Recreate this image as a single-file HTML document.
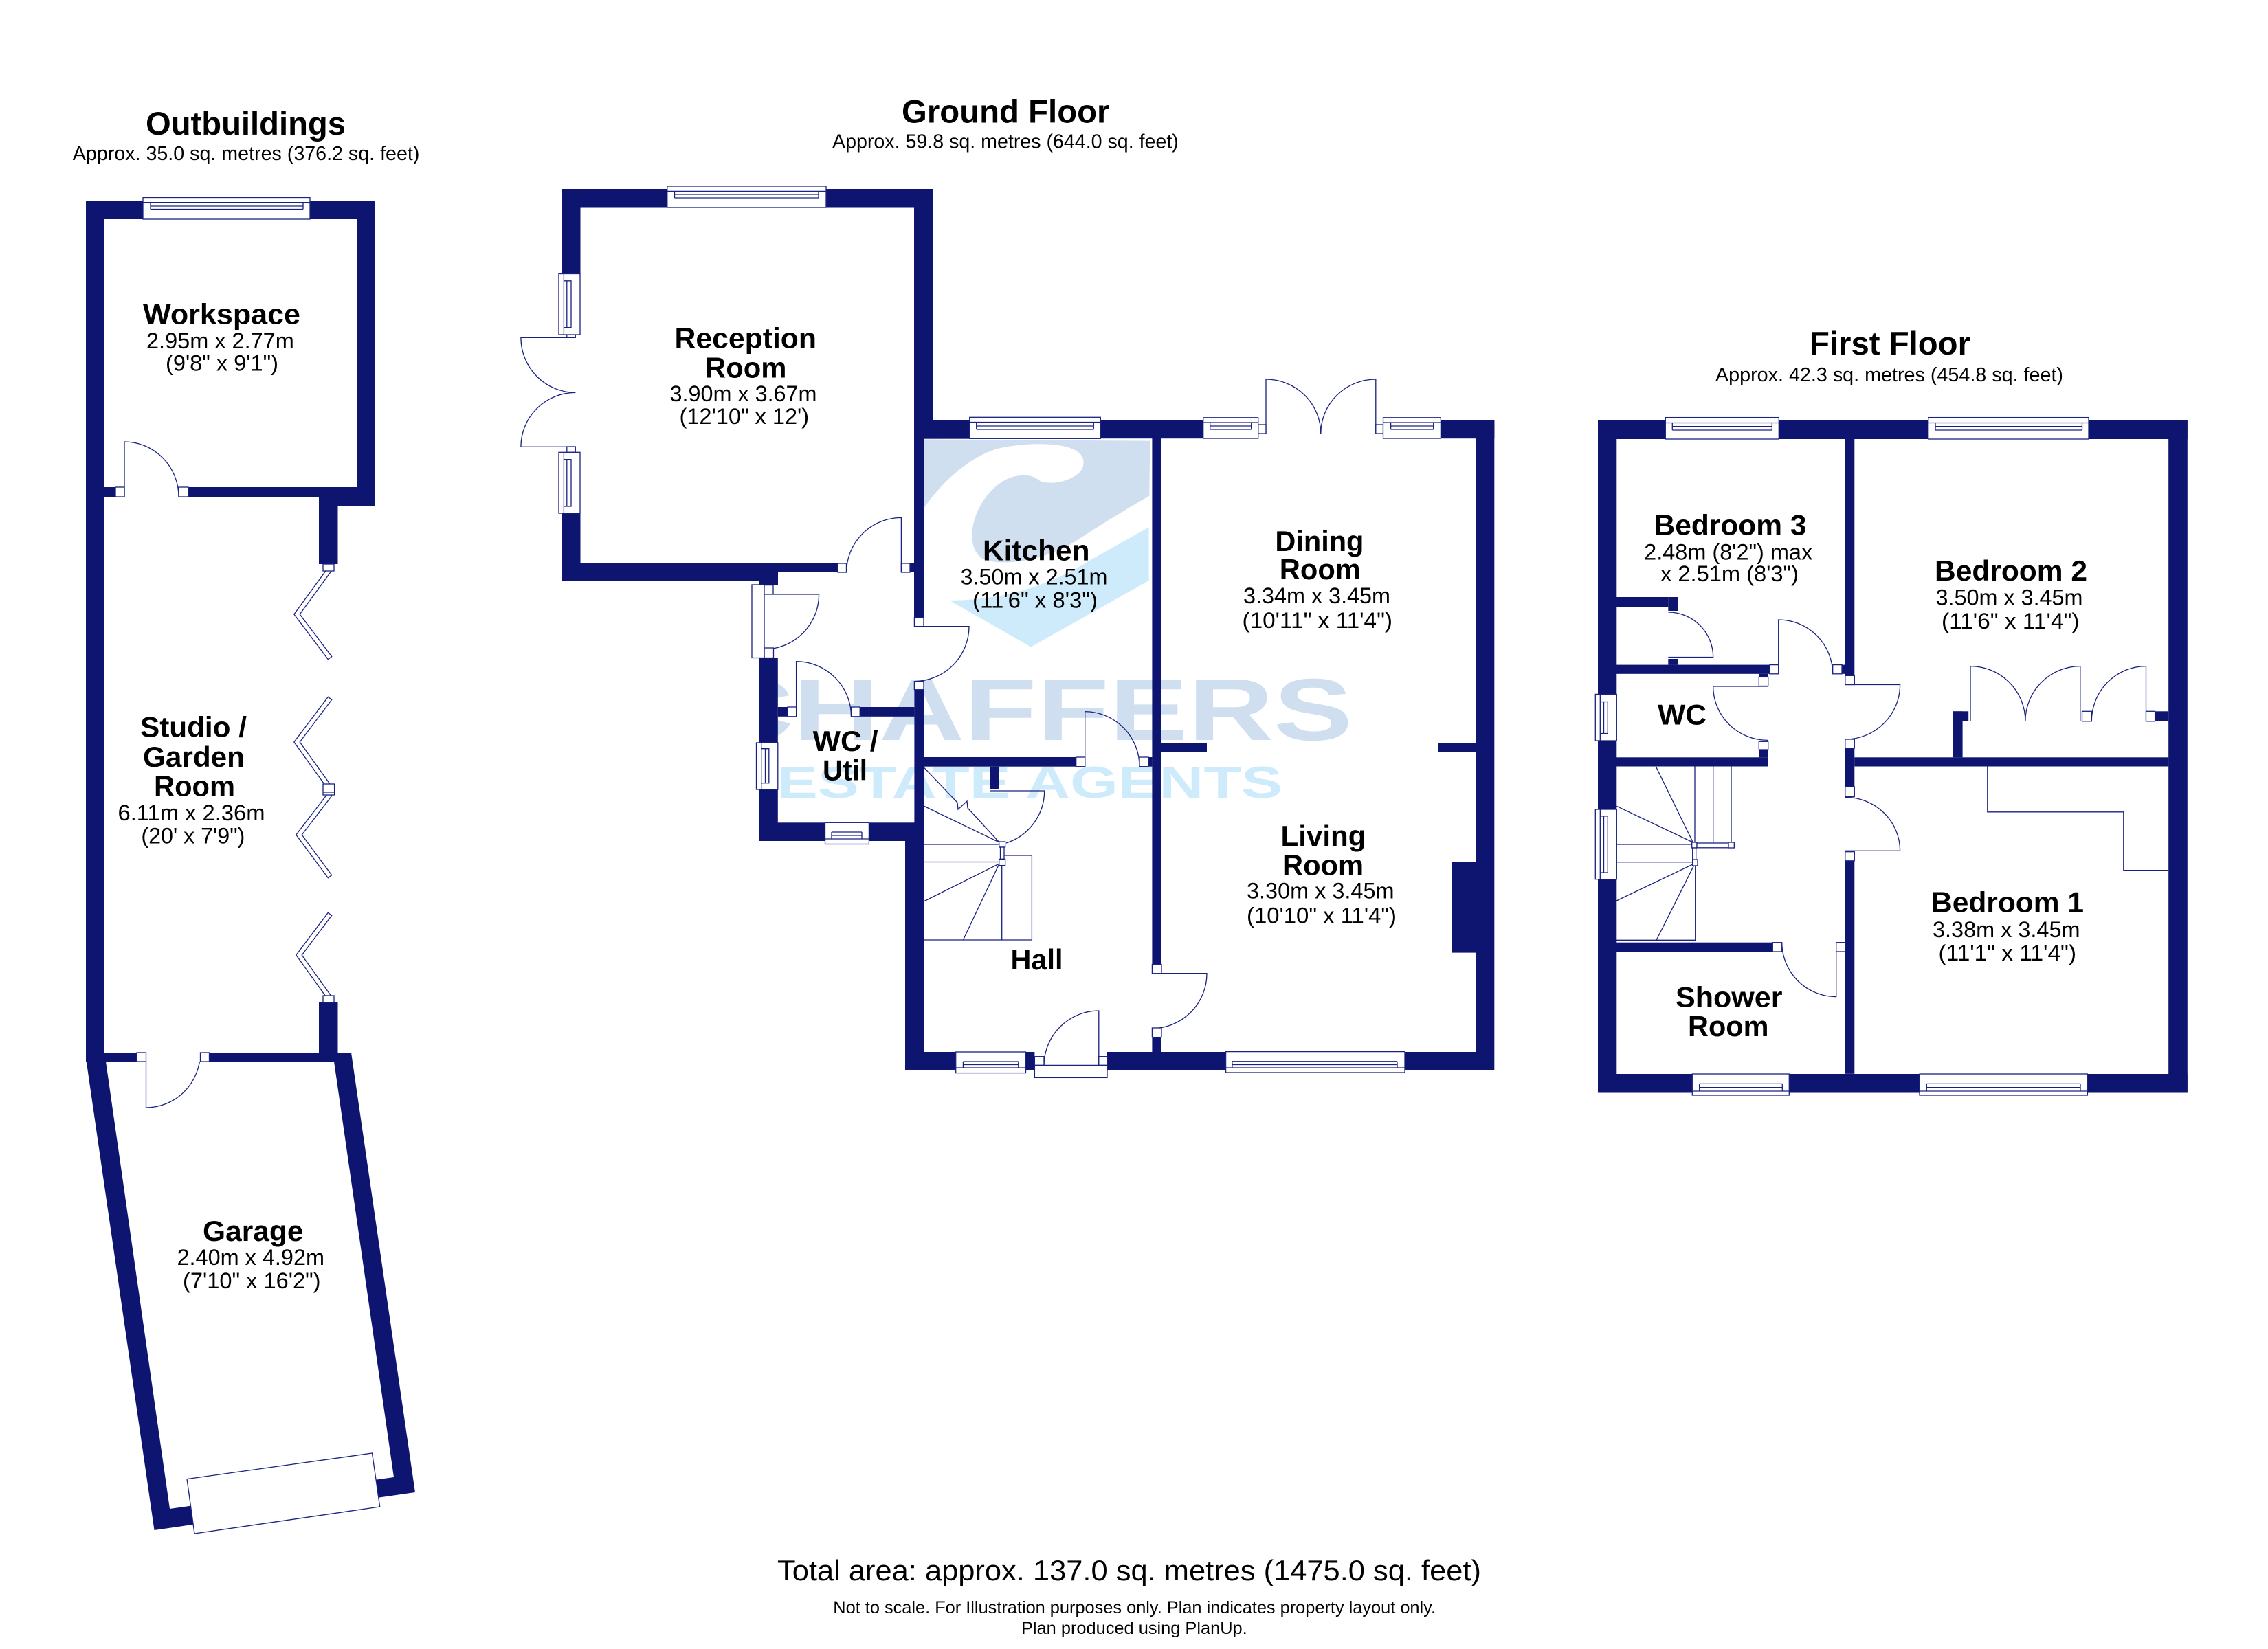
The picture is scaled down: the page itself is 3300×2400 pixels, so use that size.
<!DOCTYPE html>
<html><head><meta charset="utf-8"><title>Floor plan</title>
<style>
html,body{margin:0;padding:0;background:#fff}
svg{display:block}
text{font-family:"Liberation Sans",Arial,sans-serif;fill:#000}
.t{font-size:47px;font-weight:700}
.r{font-size:42px;font-weight:700}
.d{font-size:32px}
.s{font-size:29px}
.w rect,.w path{fill:#0d1570}
.l{fill:none;stroke:#1a2280;stroke-width:1.3}
.q rect{fill:#fff;stroke:#1a2280;stroke-width:1.3}
.win rect{fill:#fff;stroke:#1a2280;stroke-width:1.3}
.win path{fill:none;stroke:#1a2280;stroke-width:1.3}
.bf{fill:none;stroke:#1a2280;stroke-width:8;stroke-linejoin:miter;stroke-linecap:square}
.bf2{fill:none;stroke:#fff;stroke-width:5.4;stroke-linejoin:miter;stroke-linecap:square}
</style></head><body>
<svg xmlns="http://www.w3.org/2000/svg" width="3300" height="2400" viewBox="0 0 3300 2400">
<defs><clipPath id="wm"><rect x="1104" y="900" width="1000" height="320"/></clipPath></defs>
<rect width="3300" height="2400" fill="#fff"/>

<!-- watermark -->
<g transform="translate(1340 600) scale(.3333)">
<path fill="#cfdff0" d="M12 118 L1000 125 L997 365 C850 450 740 520 680 560 C560 640 360 680 270 640 C220 610 210 530 240 450 C270 370 340 290 420 278 C480 270 500 285 520 300 C570 320 650 300 690 265 C720 235 715 190 680 170 C620 130 450 130 330 160 C200 200 80 320 12 420 Z"/>
<path fill="#cdebfb" d="M995 502 L995 735 L480 1025 L125 822 C350 820 560 760 740 645 Z"/>
</g>
<g clip-path="url(#wm)">
<text x="1030" y="1077" font-size="128" font-weight="700" style="fill:#cfdff0" textLength="938" lengthAdjust="spacingAndGlyphs">CHAFFERS</text>
<text x="1130" y="1161" font-size="65" font-weight="700" style="fill:#cdebfb" textLength="736" lengthAdjust="spacingAndGlyphs">ESTATE AGENTS</text>
</g>

<!-- door leaves -->
<g class="l">
<path d="M181 723V643A79 80 0 0 1 260 723"/>
<path d="M212.5 1545V1612A79 80 0 0 0 291.5 1532"/>
<path d="M837.3 491.3H757.9A79.4 80 0 0 0 837.3 571.3"/>
<path d="M837.3 650.3H757.9A79.4 79 0 0 1 837.3 571.3"/>
<path d="M1311.4 833V753.4A80 80 0 0 0 1231.5 833"/>
<path d="M1112 865H1191.6A80 80 0 0 1 1112 945"/>
<path d="M1330.4 911.6H1410A80 80 0 0 1 1330.4 991.6"/>
<path d="M1158.6 1042.8V962.7A80 80 0 0 1 1238.5 1042.8"/>
<path d="M1578.7 1115.7V1035.6A80 80 0 0 1 1658 1115.7"/>
<path d="M1440 1151H1519.7A80 80 0 0 1 1464 1227"/>
<path d="M1598.8 1551V1471A80 80 0 0 0 1519 1551"/>
<path d="M1676.4 1416.7H1756A80 80 0 0 1 1676.4 1496.7"/>
<path d="M1842 631V552A80 79 0 0 1 1921.8 631"/>
<path d="M2001.8 631V552A80 79 0 0 0 1921.8 631"/>
<path d="M2427.3 956.5H2492.7A65.4 65.5 0 0 0 2427.3 891"/>
<path d="M2587.7 980.8V902A79 79 0 0 1 2666.7 980.8"/>
<path d="M2572 999H2492.7A79.3 78.4 0 0 0 2572 1077.4"/>
<path d="M2684.8 996.5H2764.6A79.8 79.5 0 0 1 2684.8 1076"/>
<path d="M2684.8 1238.3H2764.6A79.8 78 0 0 0 2684.8 1160.3"/>
<path d="M2671.7 1385V1450.6A79 79 0 0 1 2592.7 1371.7"/>
<path d="M2867 1049.8V969.6A80 80 0 0 1 2946.9 1049.8"/>
<path d="M3026.8 1049.8V969.6A80 80 0 0 0 2946.9 1049.8"/>
<path d="M3122.5 1049.8V969.6A79.2 80 0 0 0 3043.3 1049.8"/>
<!-- GF stairs -->
<path d="M1344 1116.7L1393 1168L1394 1178L1407 1166L1408 1176L1454 1226"/>
<path d="M1344 1173L1454 1226M1344 1229H1454M1344 1254.5H1454M1458 1245H1501.4V1368H1344M1457.7 1255V1368M1454 1257L1344 1312M1454 1257L1401.4 1368"/>
<!-- FF stairs -->
<path d="M2409.3 1115.5L2463.3 1226M2352.3 1173.3L2463.3 1226M2352 1229H2463M2352 1254.7H2463M2352 1311L2463 1258M2410 1368.4L2466 1257M2466 1115.5V1227M2492.7 1115.5V1227M2519 1115.5V1227M2466.7 1258V1368.4H2352"/>
<path d="M2352 1368.4H2466"/>
</g>
<g class="q">
<rect x="1453.7" y="1225" width="8.9" height="8"/><rect x="1455.5" y="1233" width="5.5" height="17.4"/><rect x="1453.7" y="1250.4" width="8.9" height="9.2"/>
<rect x="2461.7" y="1226" width="7.3" height="8"/><rect x="2469" y="1227" width="46" height="6.8"/><rect x="2515" y="1226" width="8.3" height="8"/><rect x="2462.7" y="1234" width="5" height="20"/><rect x="2462.7" y="1251" width="7.3" height="9"/>
</g>

<!-- walls -->
<g class="w">
<!-- outbuildings -->
<rect x="125" y="292" width="27" height="1253"/>
<rect x="125" y="292" width="83" height="27"/><rect x="451" y="292" width="95" height="27"/>
<rect x="519" y="292" width="27" height="444"/>
<rect x="464" y="723" width="82" height="13"/><rect x="464" y="736" width="27.5" height="85"/>
<rect x="274" y="709" width="272" height="14"/><rect x="152" y="709" width="16" height="14"/>
<rect x="464" y="1459" width="27.5" height="75"/>
<path fill-rule="evenodd" d="M125 1532H511L604 2172L224.5 2227L125 1540ZM154 1545L247 2196L573 2150L486 1545Z"/>
<!-- reception -->
<rect x="817" y="275" width="153.8" height="27.5"/><rect x="1202" y="275" width="155" height="27.5"/>
<rect x="817" y="275" width="27.5" height="123.5"/><rect x="817" y="747" width="27.5" height="99"/>
<rect x="817" y="819.5" width="402" height="13.5"/><rect x="817" y="833" width="315" height="13"/><rect x="1105" y="846" width="27" height="5.6"/>
<rect x="1330" y="275" width="27" height="336"/><rect x="1330" y="611" width="14" height="288"/>
<rect x="1330" y="611" width="80.7" height="27.7"/><rect x="1601.3" y="611" width="149.4" height="27.2"/><rect x="2096.4" y="611" width="78" height="27.2"/>
<rect x="2147" y="611" width="27.3" height="947"/>
<rect x="1676.4" y="611" width="13.6" height="792.5"/><rect x="1676.4" y="1509.6" width="13.6" height="22"/>
<rect x="1324" y="820" width="6.6" height="13"/>
<!-- wc/util -->
<rect x="1104.5" y="957.5" width="27.3" height="124"/><rect x="1104.5" y="1149" width="27.3" height="75"/>
<rect x="1104.5" y="1197.3" width="96" height="26.7"/><rect x="1264.4" y="1197.3" width="80" height="26.7"/>
<rect x="1330.4" y="1003.5" width="13.6" height="220"/><rect x="1317" y="1224" width="27" height="334"/>
<rect x="1317" y="1531" width="73.7" height="27"/><rect x="1492.5" y="1531" width="12.9" height="27"/>
<rect x="1611" y="1531" width="172.6" height="27"/><rect x="2044" y="1531" width="130" height="27"/>
<rect x="1131.8" y="1029" width="14.2" height="13.8"/><rect x="1251" y="1029" width="79.4" height="13.8"/>
<rect x="1344" y="1102" width="221.7" height="13.7"/><rect x="1671" y="1102" width="5.4" height="13.7"/><rect x="1440" y="1115.7" width="14" height="32.7"/>
<rect x="1690" y="1081" width="66" height="13.3"/><rect x="2092" y="1081" width="55" height="13.3"/><rect x="2113" y="1254" width="34" height="132.6"/>
<!-- first floor -->
<rect x="2325" y="611.5" width="27.3" height="979"/>
<rect x="2325" y="611.5" width="98.3" height="27.5"/><rect x="2588.3" y="611.5" width="217.4" height="27.5"/><rect x="3039" y="611.5" width="143.8" height="27.5"/>
<rect x="3155.2" y="611.5" width="27.6" height="979"/>
<rect x="2325" y="1563" width="137.3" height="27.5"/><rect x="2603.3" y="1563" width="189.7" height="27.5"/><rect x="3037.4" y="1563" width="145.4" height="27.5"/>
<rect x="2684.8" y="639" width="13.5" height="344"/><rect x="2684.8" y="1089" width="13.5" height="56"/><rect x="2684.8" y="1252.8" width="13.5" height="310"/>
<rect x="2352" y="869" width="75.3" height="14.5"/><rect x="2427.3" y="869" width="13.7" height="20"/><rect x="2427.3" y="959" width="13.7" height="8.6"/>
<rect x="2352" y="967.6" width="223" height="13.2"/><rect x="2559.3" y="980.8" width="13.4" height="4.6"/><rect x="2680" y="967.6" width="4.8" height="13.2"/>
<rect x="2352" y="1102.3" width="220.7" height="13.2"/><rect x="2559.3" y="1091" width="13.4" height="11.3"/>
<rect x="2352" y="1371.7" width="227.3" height="13.3"/>
<rect x="2698.3" y="1102.3" width="457" height="13.2"/>
<rect x="2841.8" y="1035.3" width="13.8" height="67"/><rect x="2841.8" y="1035.3" width="22.4" height="14.5"/><rect x="3135.6" y="1035.3" width="19.6" height="14.5"/>
</g>
<rect x="212.5" y="1532" width="79" height="13" fill="#fff"/>

<!-- cupboard line bed 1 -->
<path class="l" d="M2891.8 1115.5V1181.8H3089.8V1266.6H3155"/>

<!-- door jambs -->
<g class="q">
<rect x="168" y="709" width="13" height="14"/><rect x="260" y="709" width="14" height="14"/>
<rect x="199" y="1532" width="13.5" height="13"/><rect x="291.5" y="1532" width="13" height="13"/>
<rect x="1219" y="820" width="12.5" height="13"/><rect x="1311.4" y="820" width="12.6" height="13"/>
<rect x="1330.4" y="899" width="13.6" height="12.6"/><rect x="1330.4" y="991.7" width="13.6" height="12"/>
<rect x="1146" y="1029" width="12.6" height="13.8"/><rect x="1238.5" y="1029" width="12.7" height="13.8"/>
<rect x="1565.7" y="1102" width="13" height="13.7"/><rect x="1658" y="1102" width="13" height="13.7"/>
<rect x="1676.4" y="1403.5" width="13.6" height="13.2"/><rect x="1676.4" y="1496" width="13.6" height="13.6"/>
<rect x="1111.4" y="851.6" width="13.6" height="13.2"/><rect x="1112" y="943" width="13.5" height="14.5"/>
<rect x="1094" y="851" width="18" height="106.5"/>
<rect x="1505.4" y="1537.7" width="13.6" height="12.7"/><rect x="1598.8" y="1537.7" width="12.2" height="12.7"/>
<rect x="1505.4" y="1550.4" width="105.6" height="18"/>
<rect x="1830.7" y="618" width="11.3" height="13"/><rect x="2001.8" y="618" width="10.7" height="13"/>
<rect x="824.8" y="487" width="12.5" height="4.3"/><rect x="824.8" y="650" width="12.5" height="8.3"/>
<rect x="2575" y="967.6" width="12.7" height="13.2"/><rect x="2666.7" y="967.6" width="13.3" height="13.2"/>
<rect x="2559.3" y="985.4" width="13.4" height="13.1"/><rect x="2559.3" y="1079.3" width="13.4" height="11.7"/>
<rect x="2684.8" y="983.4" width="13.5" height="13.1"/><rect x="2684.8" y="1076" width="13.5" height="13"/>
<rect x="2684.8" y="1145" width="13.5" height="14.5"/><rect x="2684.8" y="1239.7" width="13.5" height="13.1"/>
<rect x="2579.3" y="1371.7" width="13.4" height="13.3"/><rect x="2671.7" y="1371.7" width="13" height="13.3"/>
<rect x="3029.5" y="1035.3" width="13.8" height="14.5"/><rect x="3122.5" y="1035.3" width="13.1" height="14.5"/>
</g>
<path d="M272 2152.6L541.5 2115L552.7 2193L283 2232Z" fill="#fff" stroke="#1a2280" stroke-width="1.3"/>

<!-- bifold doors -->
<path class="bf" d="M478 831L432 894L478 955"/><path class="bf2" d="M478 831L432 894L478 955"/>
<path class="bf" d="M478 1019L432 1080L478 1144"/><path class="bf2" d="M478 1019L432 1080L478 1144"/>
<path class="bf" d="M478 1159L435 1215L478 1273"/><path class="bf2" d="M478 1159L435 1215L478 1273"/>
<path class="bf" d="M478 1333L435 1390L478 1450"/><path class="bf2" d="M478 1333L435 1390L478 1450"/>
<g class="q">
<rect x="470" y="821" width="16" height="10"/>
<rect x="470" y="1141" width="16.6" height="16"/>
<rect x="470" y="1449" width="16" height="10"/>
</g>
<path class="l" d="M470 1153H486.6"/>

<!-- windows -->
<g class="win">
<rect x="208" y="287.5" width="243" height="31.5"/><path d="M208 294.6H451M219 294.6V304.5M441 294.6V304.5M219 300H441M219 304.5H441"/>
<rect x="970.8" y="271" width="231.2" height="31"/><path d="M970.8 278.4H1202M981.5 278.4V288M1191 278.4V288M981.5 283H1191M981.5 288H1191"/>
<rect x="813" y="398.5" width="31" height="88.5"/><path d="M820.4 398.5V487M820.4 408.8H831V476.6H820.4M824.8 408.8V476.6"/>
<rect x="813" y="658.3" width="31" height="88.7"/><path d="M820.4 658.3V747M820.4 668.6H831V737H820.4M824.8 668.6V737"/>
<rect x="1410.7" y="607.3" width="190.6" height="31"/><path d="M1410.7 614.5H1601.3M1420.7 614.5V625M1591.3 614.5V625M1420.7 620H1591.3M1420.7 625H1591.3"/>
<rect x="1750.7" y="607.8" width="80" height="30.2"/><path d="M1750.7 615H1830.7M1760.7 615V625M1820.7 615V625M1760.7 620H1820.7M1760.7 625H1820.7"/>
<rect x="2012.5" y="607.8" width="83.9" height="30.2"/><path d="M2012.5 615H2096.4M2023.6 615V625M2085.7 615V625M2023.6 620H2085.7M2023.6 625H2085.7"/>
<rect x="1100.5" y="1081" width="31.3" height="68"/><path d="M1107.7 1081V1149M1107.7 1089.7H1118.8V1139.7H1107.7M1113.5 1089.7V1139.7"/>
<rect x="1200.5" y="1197.3" width="63.9" height="31.2"/><path d="M1200.5 1221H1264.4M1210 1211V1221M1254 1211V1221M1210 1211H1254M1210 1216H1254"/>
<rect x="1390.7" y="1531" width="101.8" height="30.6"/><path d="M1390.7 1554H1492.5M1401.4 1545V1554M1481.8 1545V1554M1401.4 1545H1481.8M1401.4 1549.5H1481.8"/>
<rect x="1783.6" y="1530.6" width="260.4" height="30.4"/><path d="M1783.6 1554H2044M1792.9 1544.8V1554M2033 1544.8V1554M1792.9 1544.8H2033M1792.9 1549.5H2033"/>
<rect x="2423.3" y="607.6" width="165" height="31.4"/><path d="M2423.3 615.5H2588.3M2433.3 615.5V626M2578.3 615.5V626M2433.3 620.7H2578.3M2433.3 626H2578.3"/>
<rect x="2805.7" y="607.6" width="233.3" height="31.4"/><path d="M2805.7 615.5H3039M2816 615.5V626M3029.5 615.5V626M2816 620.7H3029.5M2816 626H3029.5"/>
<rect x="2321.3" y="1010.4" width="31" height="67.6"/><path d="M2328.3 1010.4V1078M2328.3 1021.5H2339.3V1067.5H2328.3M2333.5 1021.5V1067.5"/>
<rect x="2321.3" y="1178" width="31" height="101.7"/><path d="M2328.3 1178V1279.7M2328.3 1187.8H2339.3V1270H2328.3M2333.5 1187.8V1270"/>
<rect x="2462.3" y="1563" width="141" height="31"/><path d="M2462.3 1588H2603.3M2472.7 1577.4V1588M2593.3 1577.4V1588M2472.7 1577.4H2593.3M2472.7 1582.6H2593.3"/>
<rect x="2793" y="1563" width="244.4" height="31"/><path d="M2793 1588H3037.4M2803.3 1577.4V1588M3027 1577.4V1588M2803.3 1577.4H3027M2803.3 1582.6H3027"/>
</g>

<!-- headings -->
<text class="t" x="212" y="196" textLength="291" lengthAdjust="spacingAndGlyphs">Outbuildings</text>
<text class="s" x="105.8" y="233" textLength="504.6" lengthAdjust="spacingAndGlyphs">Approx. 35.0 sq. metres (376.2 sq. feet)</text>
<text class="t" x="1312" y="178.3" textLength="302.5" lengthAdjust="spacingAndGlyphs">Ground Floor</text>
<text class="s" x="1211" y="215.7" textLength="503.8" lengthAdjust="spacingAndGlyphs">Approx. 59.8 sq. metres (644.0 sq. feet)</text>
<text class="t" x="2633" y="516" textLength="234" lengthAdjust="spacingAndGlyphs">First Floor</text>
<text class="s" x="2496" y="555" textLength="506" lengthAdjust="spacingAndGlyphs">Approx. 42.3 sq. metres (454.8 sq. feet)</text>

<!-- room labels -->
<text class="r" x="208" y="471.4" textLength="229" lengthAdjust="spacingAndGlyphs">Workspace</text>
<text class="d" x="213" y="507" textLength="214.8" lengthAdjust="spacingAndGlyphs">2.95m x 2.77m</text>
<text class="d" x="241" y="539.7" textLength="164" lengthAdjust="spacingAndGlyphs">(9'8" x 9'1")</text>

<text class="r" x="204" y="1072.3" textLength="155" lengthAdjust="spacingAndGlyphs">Studio /</text>
<text class="r" x="208" y="1116" textLength="148" lengthAdjust="spacingAndGlyphs">Garden</text>
<text class="r" x="224" y="1158.5" textLength="118" lengthAdjust="spacingAndGlyphs">Room</text>
<text class="d" x="171.5" y="1194" textLength="214" lengthAdjust="spacingAndGlyphs">6.11m x 2.36m</text>
<text class="d" x="205.4" y="1227.7" textLength="151" lengthAdjust="spacingAndGlyphs">(20' x 7'9")</text>

<text class="r" x="295" y="1806" textLength="146.5" lengthAdjust="spacingAndGlyphs">Garage</text>
<text class="d" x="257.5" y="1840.8" textLength="214.5" lengthAdjust="spacingAndGlyphs">2.40m x 4.92m</text>
<text class="d" x="266" y="1875" textLength="200.5" lengthAdjust="spacingAndGlyphs">(7'10" x 16'2")</text>

<text class="r" x="981.5" y="506.5" textLength="206.5" lengthAdjust="spacingAndGlyphs">Reception</text>
<text class="r" x="1026" y="549.4" textLength="118.5" lengthAdjust="spacingAndGlyphs">Room</text>
<text class="d" x="974.5" y="583.8" textLength="214" lengthAdjust="spacingAndGlyphs">3.90m x 3.67m</text>
<text class="d" x="988.5" y="617" textLength="188.6" lengthAdjust="spacingAndGlyphs">(12'10" x 12')</text>

<text class="r" x="1430" y="815.7" textLength="155.5" lengthAdjust="spacingAndGlyphs">Kitchen</text>
<text class="d" x="1397.5" y="850.4" textLength="214" lengthAdjust="spacingAndGlyphs">3.50m x 2.51m</text>
<text class="d" x="1415.2" y="884.6" textLength="181.8" lengthAdjust="spacingAndGlyphs">(11'6" x 8'3")</text>

<text class="r" x="1182.7" y="1092.8" textLength="95" lengthAdjust="spacingAndGlyphs">WC /</text>
<text class="r" x="1197" y="1135.6" textLength="65" lengthAdjust="spacingAndGlyphs">Util</text>
<text class="r" x="1470.5" y="1411" textLength="76" lengthAdjust="spacingAndGlyphs">Hall</text>

<text class="r" x="1855.4" y="801.8" textLength="129" lengthAdjust="spacingAndGlyphs">Dining</text>
<text class="r" x="1861.8" y="843" textLength="118" lengthAdjust="spacingAndGlyphs">Room</text>
<text class="d" x="1809" y="878" textLength="214" lengthAdjust="spacingAndGlyphs">3.34m x 3.45m</text>
<text class="d" x="1807.5" y="914" textLength="218.5" lengthAdjust="spacingAndGlyphs">(10'11" x 11'4")</text>

<text class="r" x="1863.5" y="1231" textLength="124" lengthAdjust="spacingAndGlyphs">Living</text>
<text class="r" x="1866" y="1273.7" textLength="118" lengthAdjust="spacingAndGlyphs">Room</text>
<text class="d" x="1814" y="1307.6" textLength="214.5" lengthAdjust="spacingAndGlyphs">3.30m x 3.45m</text>
<text class="d" x="1814" y="1343.4" textLength="218" lengthAdjust="spacingAndGlyphs">(10'10" x 11'4")</text>

<text class="r" x="2406.5" y="778.4" textLength="222" lengthAdjust="spacingAndGlyphs">Bedroom 3</text>
<text class="d" x="2392.2" y="814.6" textLength="245" lengthAdjust="spacingAndGlyphs">2.48m (8'2") max</text>
<text class="d" x="2416" y="846" textLength="201" lengthAdjust="spacingAndGlyphs">x 2.51m (8'3")</text>
<text class="r" x="2412" y="1054.4" textLength="71" lengthAdjust="spacingAndGlyphs">WC</text>
<text class="r" x="2438" y="1465.7" textLength="155.5" lengthAdjust="spacingAndGlyphs">Shower</text>
<text class="r" x="2456" y="1507.8" textLength="117.5" lengthAdjust="spacingAndGlyphs">Room</text>

<text class="r" x="2815" y="844.8" textLength="222" lengthAdjust="spacingAndGlyphs">Bedroom 2</text>
<text class="d" x="2816.5" y="880.3" textLength="214" lengthAdjust="spacingAndGlyphs">3.50m x 3.45m</text>
<text class="d" x="2825" y="915" textLength="200.5" lengthAdjust="spacingAndGlyphs">(11'6" x 11'4")</text>
<text class="r" x="2810" y="1327.7" textLength="222" lengthAdjust="spacingAndGlyphs">Bedroom 1</text>
<text class="d" x="2812" y="1363.8" textLength="214.5" lengthAdjust="spacingAndGlyphs">3.38m x 3.45m</text>
<text class="d" x="2820.5" y="1398" textLength="200.5" lengthAdjust="spacingAndGlyphs">(11'1" x 11'4")</text>

<!-- footer -->
<text x="1131" y="2300" font-size="42" textLength="1024" lengthAdjust="spacingAndGlyphs">Total area: approx. 137.0 sq. metres (1475.0 sq. feet)</text>
<text x="1212.3" y="2348" font-size="25" textLength="876.7" lengthAdjust="spacingAndGlyphs">Not to scale. For Illustration purposes only. Plan indicates property layout only.</text>
<text x="1486" y="2378" font-size="25" textLength="328.7" lengthAdjust="spacingAndGlyphs">Plan produced using PlanUp.</text>
</svg>
</body></html>
